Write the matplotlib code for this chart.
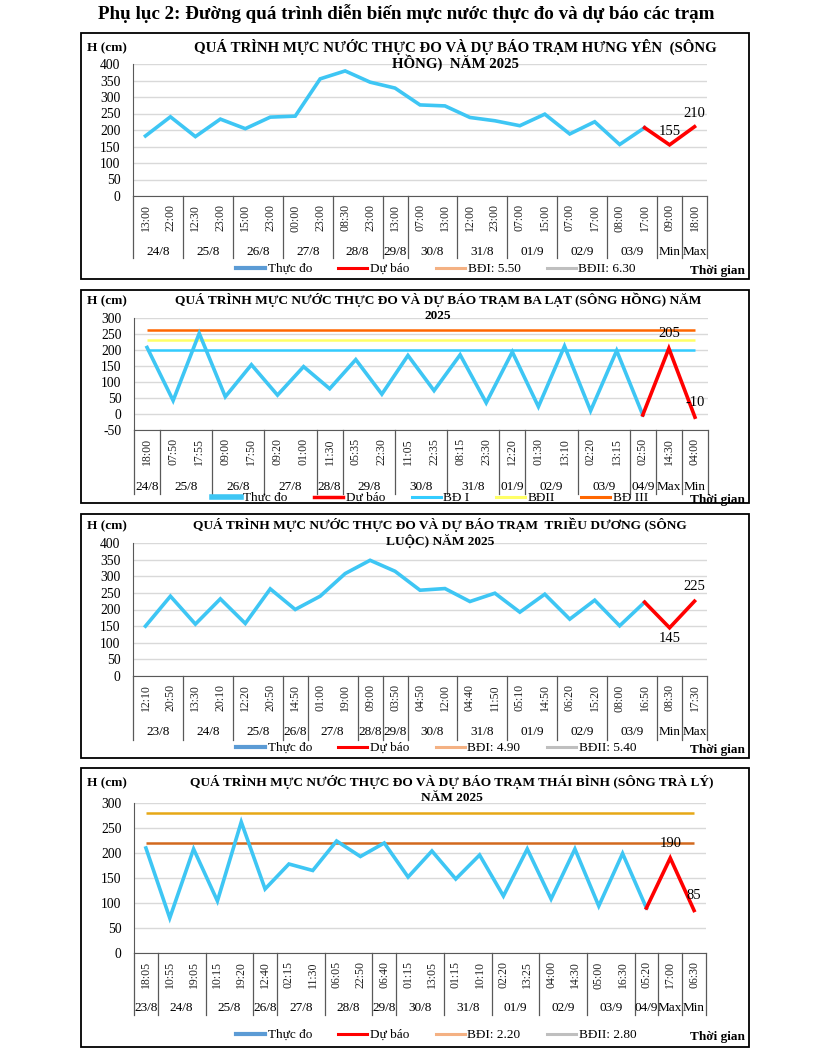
import matplotlib
matplotlib.use("Agg")
import matplotlib.pyplot as plt
from matplotlib.patches import Rectangle
from matplotlib.lines import Line2D

plt.rcParams['font.family'] = ['Liberation Serif', 'DejaVu Serif']
plt.rcParams['axes.unicode_minus'] = False

# ------------------------------ #
#              Data              #
# ------------------------------ #
# Hưng Yên (sông Hồng)
hy_times = ['13:00', '22:00', '12:30', '23:00', '15:00', '23:00', '00:00', '23:00',
            '08:30', '23:00', '13:00', '07:00', '13:00', '12:00', '23:00', '07:00',
            '15:00', '07:00', '17:00', '08:00', '17:00', '09:00', '18:00']
hy_groups = [('24/8', 2), ('25/8', 2), ('26/8', 2), ('27/8', 2), ('28/8', 2), ('29/8', 1),
             ('30/8', 2), ('31/8', 2), ('01/9', 2), ('02/9', 2), ('03/9', 2), ('Min', 1), ('Max', 1)]
hy_obs = [182, 240, 180, 233, 204, 239, 242, 355, 379, 345, 327, 276, 273, 238, 228,
          213, 248, 188, 225, 156, 207]
hy_fc = [155, 210]

# Ba Lạt (sông Hồng)
bl_times = ['18:00', '07:50', '17:55', '09:00', '17:50', '09:20', '01:00', '11:30',
            '05:35', '22:30', '11:05', '22:35', '08:15', '23:30', '12:20', '01:30',
            '13:10', '02:20', '13:15', '02:50', '14:30', '04:00']
bl_groups = [('24/8', 1), ('25/8', 2), ('26/8', 2), ('27/8', 2), ('28/8', 1), ('29/8', 2),
             ('30/8', 2), ('31/8', 2), ('01/9', 1), ('02/9', 2), ('03/9', 2), ('04/9', 1),
             ('Max', 1), ('Min', 1)]
bl_obs = [208, 42, 252, 54, 154, 59, 148, 79, 170, 62, 183, 73, 185, 35, 194, 23,
          212, 10, 198, -3]
bl_fc = [205, -10]
bl_levels = [200, 232, 264]

# Triều Dương (sông Luộc)
td_times = ['12:10', '20:50', '13:30', '20:10', '12:20', '20:50', '14:50', '01:00',
            '19:00', '09:00', '03:50', '04:50', '12:00', '04:40', '11:50', '05:10',
            '14:50', '06:20', '15:20', '08:00', '16:50', '08:30', '17:30']
td_groups = [('23/8', 2), ('24/8', 2), ('25/8', 2), ('26/8', 1), ('27/8', 2), ('28/8', 1),
             ('29/8', 1), ('30/8', 2), ('31/8', 2), ('01/9', 2), ('02/9', 2), ('03/9', 2),
             ('Min', 1), ('Max', 1)]
td_obs = [150, 240, 156, 232, 158, 262, 200, 240, 308, 348, 315, 258, 263, 224, 249,
          192, 246, 171, 228, 151, 222]
td_fc = [145, 225]

# Thái Bình (sông Trà Lý)
tb_times = ['18:05', '10:55', '19:05', '10:15', '19:20', '12:40', '02:15', '11:30',
            '06:05', '22:50', '06:40', '01:15', '13:05', '01:15', '10:10', '02:20',
            '13:25', '04:00', '14:30', '05:00', '16:30', '05:20', '17:00', '06:30']
tb_groups = [('23/8', 1), ('24/8', 2), ('25/8', 2), ('26/8', 1), ('27/8', 2), ('28/8', 2),
             ('29/8', 1), ('30/8', 2), ('31/8', 2), ('01/9', 2), ('02/9', 2), ('03/9', 2),
             ('04/9', 1), ('Max', 1), ('Min', 1)]
tb_obs = [210, 70, 208, 104, 262, 128, 178, 165, 224, 193, 220, 152, 204, 148, 196,
          114, 208, 108, 208, 94, 199, 90]
tb_fc = [190, 85]
tb_levels = [220, 280]

OBS_COLOR = '#3EC6F4'
FC_COLOR = '#FF0000'

W, H = 835, 1058
fig = plt.figure(figsize=(W / 100, H / 100), dpi=100)


def fy(y):
    return 1 - y / H


def draw_panel(box, ax_px, title, title_cx, title_y, title_fs, times, groups, obs, fc,
               ylim, yticks, rows, legend_items, fc_label_offsets, levels=None, level_colors=None):
    # panel frame
    bx0, by0, bx1, by1 = box
    fig.add_artist(Rectangle((bx0 / W, fy(by1)), (bx1 - bx0) / W, (by1 - by0) / H,
                             transform=fig.transFigure, fill=False, ec='black', lw=1.3))
    l, t, r, b = ax_px
    ax = fig.add_axes([l / W, fy(b), (r - l) / W, (b - t) / H])
    n = len(times)
    ax.set_xlim(-0.5, n - 0.5)
    ax.set_ylim(*ylim)
    ax.set_yticks(yticks)
    ax.set_xticks(range(n))
    ax.set_xticklabels(times, rotation=90, fontsize=8.5, va='top')
    ax.tick_params(axis='x', length=0, pad=6, colors='#222222')
    ax.tick_params(axis='y', length=0, pad=9, labelsize=9.8)
    ax.grid(axis='y', color='#D9D9D9', lw=1)
    ax.set_axisbelow(True)
    for s in ['top', 'right']:
        ax.spines[s].set_visible(False)
    ax.spines['left'].set_color('#595959')
    ax.spines['bottom'].set_color('#595959')

    # warning levels
    if levels is not None:
        for v, c in zip(levels, level_colors):
            ax.hlines(v, 0, n - 1, colors=c, lw=1.8, zorder=2)

    x_obs = list(range(len(obs)))
    ax.plot(x_obs, obs, color=OBS_COLOR, lw=2.6, zorder=3, solid_joinstyle='miter')
    x_fc = list(range(len(obs) - 1, len(obs) + len(fc)))
    ax.plot(x_fc, [obs[-1]] + fc, color=FC_COLOR, lw=2.6, zorder=4, solid_joinstyle='miter')
    for xi, v, dy in zip(x_fc[1:], fc, fc_label_offsets):
        ax.annotate(str(v), (xi, v), xytext=(0, dy), textcoords='offset points',
                    ha='center', va='bottom' if dy > 0 else 'top', fontsize=10.5, zorder=5)

    # multi-level category axis
    date_y, sep_y = rows
    hpx = b - t
    date_frac = -(date_y - b) / hpx
    sep_frac = -(sep_y - b) / hpx
    tr = ax.get_xaxis_transform()
    pos = -0.5
    ax.plot([pos, pos], [0, sep_frac], transform=tr, color='#595959', lw=0.9, clip_on=False)
    for name, cnt in groups:
        ax.text(pos + cnt / 2, date_frac, name, transform=tr, ha='center', va='center',
                fontsize=9.5)
        pos += cnt
        ax.plot([pos, pos], [0, sep_frac], transform=tr, color='#595959', lw=0.9, clip_on=False)

    # titles
    for i, line in enumerate(title):
        fig.text(title_cx / W, fy(title_y + i * 16), line, ha='center', va='center',
                 fontsize=title_fs, fontweight='bold')
    fig.text(107 / W, fy(title_y + 1), 'H (cm)', ha='center', va='center',
             fontsize=9.5, fontweight='bold')

    # legend
    leg_y, leg_cx = legend_items[0]
    handles = [Line2D([], [], color=c, lw=lw) for _, c, lw in legend_items[1:]]
    labels = [lab for lab, _, _ in legend_items[1:]]
    fig.legend(handles, labels, loc='center', bbox_to_anchor=(leg_cx / W, fy(leg_y)),
               ncol=len(handles), frameon=False, fontsize=9.5, handlelength=2.2,
               handletextpad=0.2, columnspacing=2.0, borderpad=0)
    fig.text(745 / W, fy(leg_y + 2), 'Thời gian', ha='right', va='center',
             fontsize=9.5, fontweight='bold')
    return ax


fig.text(406 / W, fy(14), 'Phụ lục 2: Đường quá trình diễn biến mực nước thực đo và dự báo các trạm',
         ha='center', va='center', fontsize=13.7, fontweight='bold')

std_legend = lambda a, b_: [('Thực đo', '#5B9BD5', 3), ('Dự báo', '#FF0000', 2.2),
                            (a, '#F4B183', 2.2), (b_, '#BFBFBF', 2.2)]

draw_panel((81, 33, 749, 279), (133, 64, 707, 196),
           ['QUÁ TRÌNH MỰC NƯỚC THỰC ĐO VÀ DỰ BÁO TRẠM HƯNG YÊN  (SÔNG', 'HỒNG)  NĂM 2025'],
           455, 47, 10.7, hy_times, hy_groups, hy_obs, hy_fc, (0, 400), range(0, 401, 50),
           (252, 258), [(269, 436)] + std_legend('BĐI: 5.50', 'BĐII: 6.30'), [5, 5])

draw_panel((81, 290, 749, 503), (134, 318, 708, 430),
           ['QUÁ TRÌNH MỰC NƯỚC THỰC ĐO VÀ DỰ BÁO TRẠM BA LẠT (SÔNG HỒNG) NĂM', '2025'],
           438, 300, 9.6, bl_times, bl_groups, bl_obs, bl_fc, (-50, 300), range(-50, 301, 50),
           (487, 494),
           [(498, 430), ('Thực đo', OBS_COLOR, 4), ('Dự báo', '#FF0000', 2.5),
            ('BĐ I', '#33CCFF', 2.2), ('BĐII', '#FFFF66', 2.2), ('BĐ III', '#FF6600', 2.2)],
           [6, 6], levels=bl_levels, level_colors=['#33CCFF', '#FFFF66', '#FF6600'])

draw_panel((81, 514, 749, 758), (133, 543, 707, 676),
           ['QUÁ TRÌNH MỰC NƯỚC THỰC ĐO VÀ DỰ BÁO TRẠM  TRIỀU DƯƠNG (SÔNG', 'LUỘC) NĂM 2025'],
           440, 525, 9.6, td_times, td_groups, td_obs, td_fc, (0, 400), range(0, 401, 50),
           (732, 740), [(748, 436)] + std_legend('BĐI: 4.90', 'BĐII: 5.40'), [-3, 6])

draw_panel((81, 768, 749, 1047), (134, 803, 706, 953),
           ['QUÁ TRÌNH MỰC NƯỚC THỰC ĐO VÀ DỰ BÁO TRẠM THÁI BÌNH (SÔNG TRÀ LÝ)', 'NĂM 2025'],
           452, 782, 9.6, tb_times, tb_groups, tb_obs, tb_fc, (0, 300), range(0, 301, 50),
           (1008, 1015), [(1035, 436)] + std_legend('BĐI: 2.20', 'BĐII: 2.80'), [6, 6],
           levels=tb_levels, level_colors=['#D2691E', '#E6A817'])

fig.savefig('out.png', dpi=100)
